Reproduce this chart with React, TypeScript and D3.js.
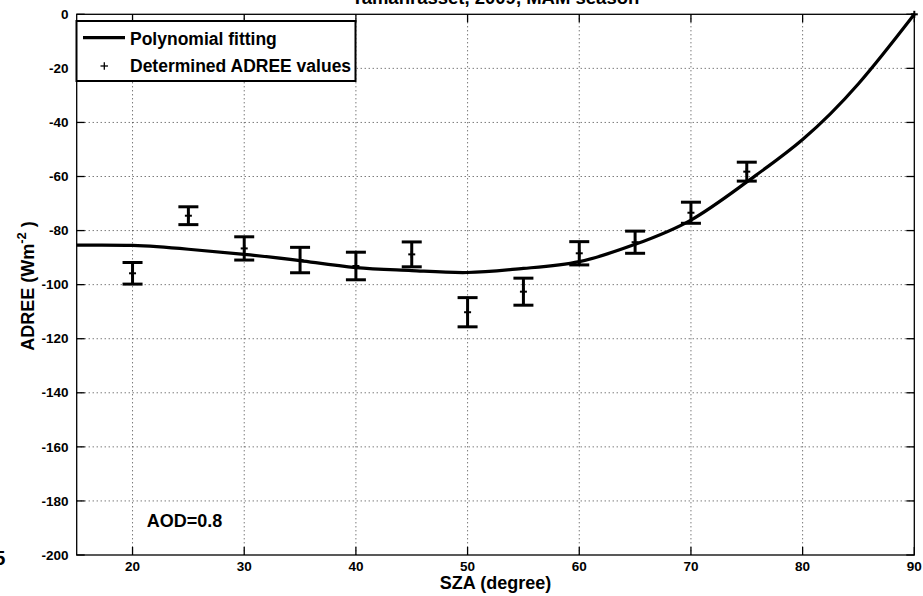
import React from "react";
import * as d3 from "d3";

const W = 923;
const H = 596;

// Determined ADREE values with error bars
const szaPoints = [20, 25, 30, 35, 40, 45, 50, 55, 60, 65, 70, 75, 90];
const adreeValues = [-95.8, -74.5, -86.6, -90.9, -93.1, -88.8, -110.2, -102.6, -88.4, -84.3, -73.4, -58.2, 0];
const adreeErrors = [4.0, 3.3, 4.3, 4.7, 5.1, 4.6, 5.4, 5.0, 4.3, 4.1, 3.9, 3.5, 0];

// Polynomial fitting curve
const fitSza = [15, 20, 25, 30, 35, 40, 45, 50, 55, 60, 65, 70, 75, 80, 85, 90];
const fitAdree = [-85.4, -85.5, -86.9, -88.8, -91.1, -93.7, -94.8, -95.5, -94.0, -91.5, -85.1, -76.1, -62.0, -46.3, -25.7, 0];

const xTicks = [20, 30, 40, 50, 60, 70, 80, 90];
const yTicks = [0, -20, -40, -60, -80, -100, -120, -140, -160, -180, -200];

const FONT = "'Liberation Sans', Arial, Helvetica, sans-serif";

export default function App() {
  const left = 76.7, right = 914.3, top = 14.3, bottom = 555;
  const x = d3.scaleLinear().domain([15, 90]).range([left, right]);
  const y = d3.scaleLinear().domain([-200, 0]).range([bottom, top]);
  const tickLen = 8;

  const fitLine = d3
    .line<number>()
    .x((_, i) => x(fitSza[i]))
    .y((d) => y(d))
    .curve(d3.curveNatural)(fitAdree) as string;

  return (
    <svg
      width={W}
      height={H}
      style={{ position: "absolute", left: 0, top: 0, background: "#fff" }}
      fontFamily={FONT}
    >
      <rect x={0} y={0} width={W} height={H} fill="#fff" />
      {/* title, clipped at top */}
      <text x={(left + right) / 2} y={4} textAnchor="middle" fontSize={18.5} fontWeight="bold">
        Tamanrasset, 2009, MAM season
      </text>
      {/* grid */}
      {xTicks.filter((t) => t > 15 && t < 90).map((t) => (
        <line key={"gx" + t} x1={x(t)} x2={x(t)} y1={top} y2={bottom} stroke="#000" strokeWidth={1} strokeDasharray="1,3" opacity={0.75} />
      ))}
      {yTicks.filter((t) => t > -200 && t < 0).map((t) => (
        <line key={"gy" + t} x1={left} x2={right} y1={y(t)} y2={y(t)} stroke="#000" strokeWidth={1} strokeDasharray="1,3" opacity={0.75} />
      ))}
      {/* axes box */}
      <rect x={left} y={top} width={right - left} height={bottom - top} fill="none" stroke="#000" strokeWidth={1.3} />
      {/* ticks */}
      {xTicks.map((t) => (
        <g key={"tx" + t}>
          <line x1={x(t)} x2={x(t)} y1={bottom} y2={bottom - tickLen} stroke="#000" strokeWidth={1.3} />
          <line x1={x(t)} x2={x(t)} y1={top} y2={top + tickLen} stroke="#000" strokeWidth={1.3} />
          <text x={x(t)} y={571} textAnchor="middle" fontSize={13.5} fontWeight="bold">
            {t}
          </text>
        </g>
      ))}
      <text x={5.5} y={565} textAnchor="end" fontSize={20} fontWeight="bold">15</text>
      {yTicks.map((t) => (
        <g key={"ty" + t}>
          <line x1={left} x2={left + tickLen} y1={y(t)} y2={y(t)} stroke="#000" strokeWidth={1.3} />
          <line x1={right} x2={right - tickLen} y1={y(t)} y2={y(t)} stroke="#000" strokeWidth={1.3} />
          <text x={68.5} y={y(t) + 4.7} textAnchor="end" fontSize={13.5} fontWeight="bold">
            {t}
          </text>
        </g>
      ))}
      {/* axis labels */}
      <text x={(left + right) / 2} y={588.5} textAnchor="middle" fontSize={18} fontWeight="bold">
        SZA (degree)
      </text>
      <text transform={`translate(33.5, 286) rotate(-90)`} textAnchor="middle" fontSize={18} fontWeight="bold">
        ADREE (Wm
        <tspan dy={-8} fontSize={13}>-2</tspan>
        <tspan dy={8}> )</tspan>
      </text>
      {/* fit curve */}
      <path d={fitLine} fill="none" stroke="#000" strokeWidth={3.2} />
      {/* error bars and markers */}
      {szaPoints.map((s, i) => {
        const cx = x(s);
        const v = adreeValues[i];
        const e = adreeErrors[i];
        const hw = 10;
        return (
          <g key={"p" + s}>
            {e > 0 && (
              <g stroke="#000" strokeWidth={3}>
                <line x1={cx} x2={cx} y1={y(v + e)} y2={y(v - e)} />
                <line x1={cx - hw} x2={cx + hw} y1={y(v + e)} y2={y(v + e)} />
                <line x1={cx - hw} x2={cx + hw} y1={y(v - e)} y2={y(v - e)} />
              </g>
            )}
            <g stroke="#000" strokeWidth={2}>
              <line x1={cx - 3.5} x2={cx + 3.5} y1={y(v)} y2={y(v)} />
              <line x1={cx} x2={cx} y1={y(v) - 3.5} y2={y(v) + 3.5} />
            </g>
          </g>
        );
      })}
      {/* legend */}
      <rect x={76.5} y={21} width={279} height={60} fill="#fff" stroke="#000" strokeWidth={2} />
      <line x1={83} x2={125} y1={37.7} y2={37.7} stroke="#000" strokeWidth={3.2} />
      <text x={130} y={44.5} fontSize={17.5} fontWeight="bold">Polynomial fitting</text>
      <g stroke="#000" strokeWidth={1.3}>
        <line x1={100.5} x2={108} y1={66} y2={66} />
        <line x1={104.3} x2={104.3} y1={62.2} y2={69.8} />
      </g>
      <text x={130} y={72.3} fontSize={17.5} fontWeight="bold">Determined ADREE values</text>
      {/* annotation */}
      <text x={146.7} y={527.3} fontSize={18} fontWeight="bold">AOD=0.8</text>
    </svg>
  );
}
